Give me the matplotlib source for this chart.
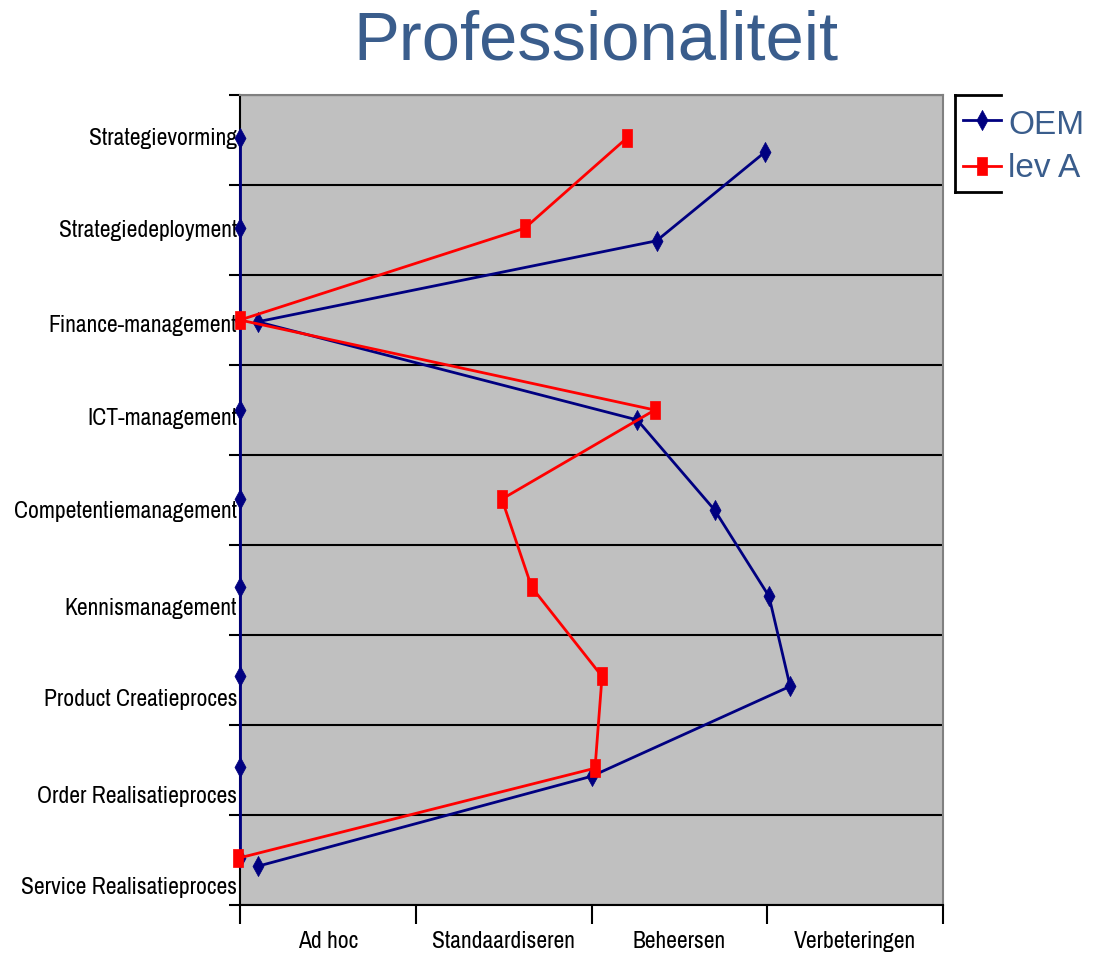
import matplotlib
matplotlib.use("Agg")
import os
import matplotlib.pyplot as plt
from matplotlib.path import Path
from matplotlib.lines import Line2D
from matplotlib.font_manager import fontManager, FontProperties

# ---------------- data ----------------
categories = ["Strategievorming", "Strategiedeployment", "Finance-management",
              "ICT-management", "Competentiemanagement", "Kennismanagement",
              "Product Creatieproces", "Order Realisatieproces",
              "Service Realisatieproces"]
levels = ["Ad hoc", "Standaardiseren", "Beheersen", "Verbeteringen"]

oem_x = [2.99, 2.37, 0.10, 2.26, 2.70, 3.01, 3.13, 2.00, 0.10]
oem_y = [0.63, 1.62, 2.52, 3.61, 4.61, 5.57, 6.57, 7.57, 8.57]

leva_x = [2.20, 1.62, 0.00, 2.36, 1.49, 1.66, 2.06, 2.02, -0.01]
leva_y = [0.48, 1.48, 2.50, 3.50, 4.49, 5.47, 6.46, 7.48, 8.48]

axis_x = [0, 0, 0, 0, 0, 0, 0, 0, 0]
axis_y = [0.48, 1.48, 2.50, 3.50, 4.49, 5.47, 6.46, 7.47, 8.48]

label_y = [0.46, 1.48, 2.54, 3.57, 4.61, 5.68, 6.70, 7.77, 8.78]

# ---------------- fonts ----------------
def find_narrow():
    cands = []
    for f in fontManager.ttflist:
        fn = os.path.basename(f.fname).lower()
        nm = f.name.lower()
        if f.style != "normal" or f.weight not in (400, "normal", "regular"):
            continue
        if "mono" in nm or ("serif" in nm and "sans" not in nm):
            continue
        score = None
        if "liberation sans narrow" in nm or "arial narrow" in nm:
            score = -1
        elif "narrow" in nm or "narrow" in fn:
            score = 0
        elif "condensed" in fn and "extra" not in fn and "semi" not in fn:
            score = 1
        elif f.stretch in ("condensed",):
            score = 1
        elif "semicondensed" in fn or f.stretch == "semi-condensed":
            score = 2
        if score is not None:
            cands.append((score, f.fname))
    cands.sort()
    return cands[0][1] if cands else None

narrow_file = find_narrow()
names = {f.name for f in fontManager.ttflist}
sans = "Liberation Sans" if "Liberation Sans" in names else "DejaVu Sans"
if narrow_file:
    lab_fp = FontProperties(fname=narrow_file, size=17)
else:
    lab_fp = FontProperties(family=sans, size=14)

title_col = "#3a5d8c"
navy = "#000080"
red = "#ff0000"

diamond = Path([(0, 1), (0.55, 0), (0, -1), (-0.55, 0), (0, 1)],
               [Path.MOVETO, Path.LINETO, Path.LINETO, Path.LINETO, Path.CLOSEPOLY])
rect = Path([(-0.3, -0.5), (0.3, -0.5), (0.3, 0.5), (-0.3, 0.5), (-0.3, -0.5)],
            [Path.MOVETO, Path.LINETO, Path.LINETO, Path.LINETO, Path.CLOSEPOLY])

W, H = 1100, 960
fig = plt.figure(figsize=(W / 100, H / 100), dpi=100)
fig.patch.set_facecolor("white")
ax = fig.add_axes([240 / W, 1 - 905 / H, 703 / W, 810 / H])
ax.set_facecolor("#c0c0c0")
ax.set_xlim(0, len(levels))
ax.set_ylim(len(categories), 0)

# gridlines / ticks
ax.set_yticks(range(len(categories) + 1))
ax.set_yticklabels([])
ax.yaxis.grid(True, color="black", lw=1.5)
ax.set_axisbelow(True)
ax.tick_params(axis="y", which="major", direction="out", length=8, width=1.5, color="black")
ax.set_yticks(label_y, minor=True)
ax.set_yticklabels(categories, minor=True, fontproperties=lab_fp)
ax.tick_params(axis="y", which="minor", length=0, pad=2)

ax.set_xticks(range(len(levels) + 1))
ax.set_xticklabels([])
ax.tick_params(axis="x", which="major", direction="out", length=14, width=1.5, color="black")
ax.set_xticks([i + 0.5 for i in range(len(levels))], minor=True)
ax.set_xticklabels(levels, minor=True, fontproperties=lab_fp)
ax.tick_params(axis="x", which="minor", length=0, pad=19)

for s in ("left", "bottom"):
    ax.spines[s].set_color("black")
    ax.spines[s].set_linewidth(1.5)
for s in ("top", "right"):
    ax.spines[s].set_color("#808080")
    ax.spines[s].set_linewidth(1.5)

# series
ax.plot(axis_x, axis_y, color=navy, lw=2, marker=diamond, markersize=14.5,
        markerfacecolor=navy, markeredgecolor=navy, markeredgewidth=0.5,
        clip_on=False, zorder=3)
ax.plot(oem_x, oem_y, color=navy, lw=2, marker=diamond, markersize=14.5,
        markerfacecolor=navy, markeredgecolor=navy, markeredgewidth=0.5,
        clip_on=False, zorder=4)
ax.plot(leva_x, leva_y, color=red, lw=2, marker=rect, markersize=12.5,
        markerfacecolor=red, markeredgecolor=red, markeredgewidth=0.5,
        clip_on=False, zorder=5)

# title
fig.text(595.5 / W, 1 - 60 / H, "Professionaliteit", fontsize=49.5, family=sans,
         color=title_col, ha="center", va="baseline")

# legend (clipped Excel-style box)
lw_frame = 2
fig.add_artist(Line2D([955 / W, 1001 / W], [1 - 95 / H, 1 - 95 / H], color="black", lw=lw_frame,
                      transform=fig.transFigure))
fig.add_artist(Line2D([955 / W, 1001 / W], [1 - 192 / H, 1 - 192 / H], color="black", lw=lw_frame,
                      transform=fig.transFigure))
fig.add_artist(Line2D([955 / W, 955 / W], [1 - 95 / H, 1 - 192 / H], color="black", lw=lw_frame,
                      transform=fig.transFigure))
fig.add_artist(Line2D([963 / W, 1001 / W], [1 - 120 / H, 1 - 120 / H], color=navy, lw=2,
                      transform=fig.transFigure))
fig.add_artist(Line2D([982 / W], [1 - 120 / H], color=navy, marker=diamond, markersize=14.5,
                      markeredgewidth=0.5, transform=fig.transFigure))
fig.add_artist(Line2D([963 / W, 1001 / W], [1 - 166 / H, 1 - 166 / H], color=red, lw=2,
                      transform=fig.transFigure))
fig.add_artist(Line2D([982 / W], [1 - 166 / H], color=red, marker=rect, markersize=12.5,
                      markeredgewidth=0.5, transform=fig.transFigure))
fig.text(1008 / W, 1 - 134 / H, "OEM", fontsize=24, family=sans, color=title_col,
         ha="left", va="baseline")
fig.text(1008 / W, 1 - 177 / H, "lev A", fontsize=24, family=sans, color=title_col,
         ha="left", va="baseline")

fig.savefig("out.png", dpi=100)
